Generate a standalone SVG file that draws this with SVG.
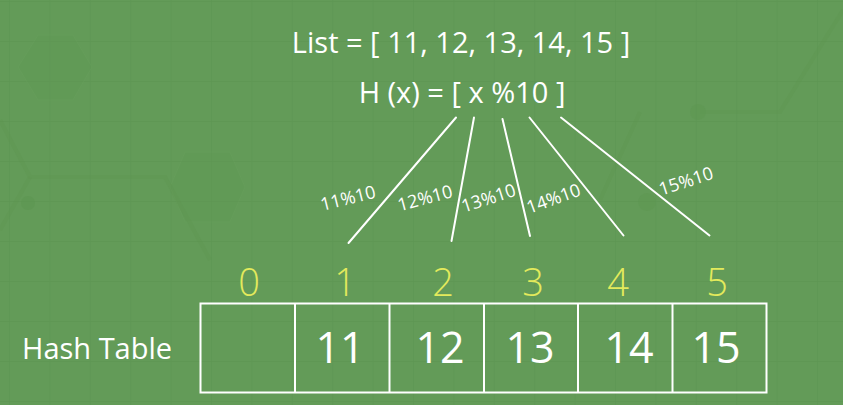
<svg xmlns="http://www.w3.org/2000/svg" width="843" height="405" viewBox="0 0 843 405">
  <defs>
    <pattern id="grid" x="9" y="1" width="40.4" height="40" patternUnits="userSpaceOnUse">
      <path d="M0 0 V40 M0 0 H40.4" fill="none" stroke="#5a9350" stroke-width="1.5" opacity="0.6"/>
    </pattern>
  </defs>
  <style>
    .t { font-family: "Open Sans", "Noto Sans", "Liberation Sans", sans-serif; font-weight: 400; fill: #ffffff; }
    .head { font-size: 29px; text-anchor: middle; }
    .lbl { font-size: 18px; text-anchor: middle; }
    .idx { font-family: "Open Sans", "Noto Sans", "Liberation Sans", sans-serif; font-weight: 300; font-size: 38px; text-anchor: middle; fill: #e3ea5c; }
    .val { font-size: 43px; text-anchor: middle; }
    .conn { stroke: #ffffff; stroke-width: 2; fill: none; stroke-linecap: round; }
    .cell { stroke: #ffffff; stroke-width: 2; fill: none; }
    .deco { fill: none; stroke: #5e964f; stroke-width: 4; opacity: 0.35; }
    .hex { fill: #5f9854; stroke: #6aa35e; stroke-width: 1; opacity: 0.3; }
  </style>

  <!-- background -->
  <rect width="843" height="405" fill="#639b58"/>
  <rect width="843" height="405" fill="url(#grid)"/>
  <g id="background-deco">
    <polygon class="hex" points="38,35 73,35 92,67 73,100 38,100 18,67"/>
    <polygon class="hex" points="185,152 230,152 245,187 230,222 185,222 170,187"/>
    <path class="deco" d="M0 120 L30 177 L165 177 L210 260"/>
    <path class="deco" d="M30 177 L0 230"/>
    <path class="deco" d="M700 112 L780 112 L843 10"/>
    <path class="deco" d="M640 112 L600 200"/>
    <circle cx="28" cy="203" r="7" fill="#5c9550" opacity="0.5"/>
    <circle cx="698" cy="112" r="8" fill="#5c9550" opacity="0.4"/>
    <circle cx="647" cy="202" r="9" fill="#5c9550" opacity="0.4"/>
  </g>

  <g id="title">
    <text class="t head" x="461" y="53">List = [ 11, 12, 13, 14, 15 ]</text>
  </g>
  <g id="hash-function">
    <text class="t head" x="462" y="103">H (x) = [ x %10 ]</text>
  </g>

  <g id="connectors">
    <line class="conn" x1="456" y1="117.5" x2="348.5" y2="243"/>
    <line class="conn" x1="474" y1="117.5" x2="451.5" y2="241"/>
    <line class="conn" x1="502.5" y1="119" x2="530" y2="236"/>
    <line class="conn" x1="529.5" y1="117.5" x2="623.5" y2="235.5"/>
    <line class="conn" x1="561" y1="117.5" x2="709.5" y2="235.5"/>
    <text class="t lbl" transform="translate(348,198) rotate(-14)" y="6.4">11%10</text>
    <text class="t lbl" transform="translate(425,198) rotate(-15)" y="6.4">12%10</text>
    <text class="t lbl" transform="translate(488.5,198) rotate(-18)" y="6.4">13%10</text>
    <text class="t lbl" transform="translate(553.5,198.5) rotate(-20)" y="6.4">14%10</text>
    <text class="t lbl" transform="translate(686,181) rotate(-18)" y="6.4">15%10</text>
  </g>

  <g id="hash-table-label">
    <text class="t" x="22" y="359" font-size="29">Hash Table</text>
  </g>

  <g id="hash-table">
    <rect class="cell" x="200.5" y="303.5" width="566" height="89"/>
    <line class="cell" x1="295" y1="303.5" x2="295" y2="392.5"/>
    <line class="cell" x1="389.5" y1="303.5" x2="389.5" y2="392.5"/>
    <line class="cell" x1="484" y1="303.5" x2="484" y2="392.5"/>
    <line class="cell" x1="578" y1="303.5" x2="578" y2="392.5"/>
    <line class="cell" x1="672.5" y1="303.5" x2="672.5" y2="392.5"/>
  </g>

  <g id="slot-0"><text class="idx" x="249" y="296">0</text></g>
  <g id="slot-1"><text class="idx" x="345" y="296">1</text><text class="t val" x="340" y="363">11</text></g>
  <g id="slot-2"><text class="idx" x="443" y="296">2</text><text class="t val" x="440" y="363">12</text></g>
  <g id="slot-3"><text class="idx" x="533" y="296">3</text><text class="t val" x="530" y="363">13</text></g>
  <g id="slot-4"><text class="idx" x="618" y="296">4</text><text class="t val" x="629" y="363">14</text></g>
  <g id="slot-5"><text class="idx" x="717" y="296">5</text><text class="t val" x="716" y="363">15</text></g>
</svg>
